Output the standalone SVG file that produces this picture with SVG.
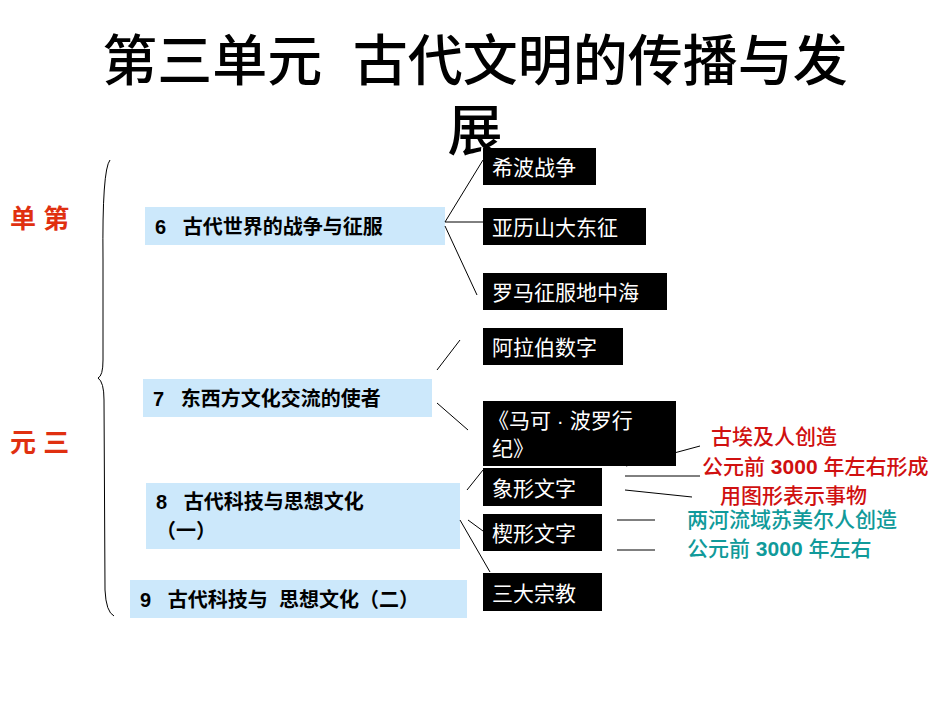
<svg xmlns="http://www.w3.org/2000/svg" width="950" height="713" viewBox="0 0 950 713">
<style>
text{white-space:pre}
.t{font-family:"Liberation Sans","Noto Sans CJK SC",sans-serif}
.blk{fill:#000}
.bt{fill:#fff;font-size:21px}
.blu{fill:#cce8fb}
.nt{fill:#000;font-size:20px;font-weight:bold}
.ln{stroke:#000;stroke-width:1;fill:none}
</style>
<rect width="950" height="713" fill="#fff"/>
<text class="t" x="475" y="80" font-size="55" text-anchor="middle" font-weight="500">第三单元  古代文明的传播与发</text>
<text class="t" x="475" y="150" font-size="55" text-anchor="middle" font-weight="500">展</text>
<g id="unit"><text class="t" x="10" y="228" font-size="26" font-weight="bold" fill="#e03010">单 第</text>
<text class="t" x="10" y="452" font-size="26" font-weight="bold" fill="#e03010">元 三</text></g>
<g id="brace"><path class="ln" stroke-width="2" d="M110 160 Q102 170 103 260 L103 360 Q103 376 98 378 Q104 382 104 400 L105 590 Q106 612 114 616"/></g>
<g id="n6"><rect class="blu" x="145" y="207" width="300" height="38"/><text class="t nt" x="155" y="234">6   古代世界的战争与征服</text></g>
<g id="n7"><rect class="blu" x="143" y="379" width="289" height="38"/><text class="t nt" x="153" y="406">7   东西方文化交流的使者</text></g>
<g id="n8"><rect class="blu" x="146" y="483" width="314" height="66"/><text class="t nt" x="156" y="509">8   古代科技与思想文化</text><text class="t nt" x="156" y="538">（一）</text></g>
<g id="n9"><rect class="blu" x="130" y="580" width="337" height="38"/><text class="t nt" x="140" y="607">9   古代科技与  思想文化（二）</text></g>
<g id="b1"><rect class="blk" x="483" y="148" width="113" height="37"/><text class="t bt" x="492" y="175">希波战争</text></g>
<g id="b2"><rect class="blk" x="483" y="208" width="163" height="37"/><text class="t bt" x="492" y="235">亚历山大东征</text></g>
<g id="b3"><rect class="blk" x="483" y="273" width="184" height="37"/><text class="t bt" x="492" y="300">罗马征服地中海</text></g>
<g id="b4"><rect class="blk" x="483" y="328" width="140" height="37"/><text class="t bt" x="492" y="355">阿拉伯数字</text></g>
<g id="b5"><rect class="blk" x="483" y="401" width="193" height="65"/><text class="t bt" x="488" y="428">《马可 · 波罗行</text><text class="t bt" x="492" y="456">纪》</text></g>
<g id="b6"><rect class="blk" x="483" y="468" width="119" height="38"/><text class="t bt" x="492" y="496">象形文字</text></g>
<g id="b7"><rect class="blk" x="483" y="514" width="119" height="37"/><text class="t bt" x="492" y="541">楔形文字</text></g>
<g id="b8"><rect class="blk" x="483" y="573" width="119" height="38"/><text class="t bt" x="492" y="601">三大宗教</text></g>
<g id="notes" class="t" font-size="21" font-weight="500">
<text x="711" y="444" fill="#d01010">古埃及人创造</text>
<text x="702" y="474" fill="#d01010">公元前 <tspan font-weight="bold">3000</tspan> 年左右形成</text>
<text x="720" y="503" fill="#d01010">用图形表示事物</text>
<text x="687" y="527" fill="#109a9a">两河流域苏美尔人创造</text>
<text x="687" y="556" fill="#109a9a">公元前 <tspan font-weight="bold">3000</tspan> 年左右</text>
</g>
<g id="connectors" class="ln">
<line x1="445" y1="222" x2="483" y2="160"/>
<line x1="445" y1="222" x2="483" y2="222"/>
<line x1="445" y1="226" x2="477" y2="295"/>
<line x1="437" y1="370" x2="460" y2="340"/>
<line x1="437" y1="403" x2="468" y2="430"/>
<line x1="467" y1="490" x2="483" y2="470"/>
<line x1="468" y1="520" x2="483" y2="531"/>
<line x1="460" y1="520" x2="490" y2="572"/>
<line x1="626" y1="466" x2="700" y2="446"/>
<line x1="625" y1="476" x2="700" y2="476"/>
<line x1="625" y1="490" x2="692" y2="497"/>
<line x1="617" y1="520" x2="655" y2="520"/>
<line x1="617" y1="550" x2="655" y2="550"/>
</g>
</svg>
